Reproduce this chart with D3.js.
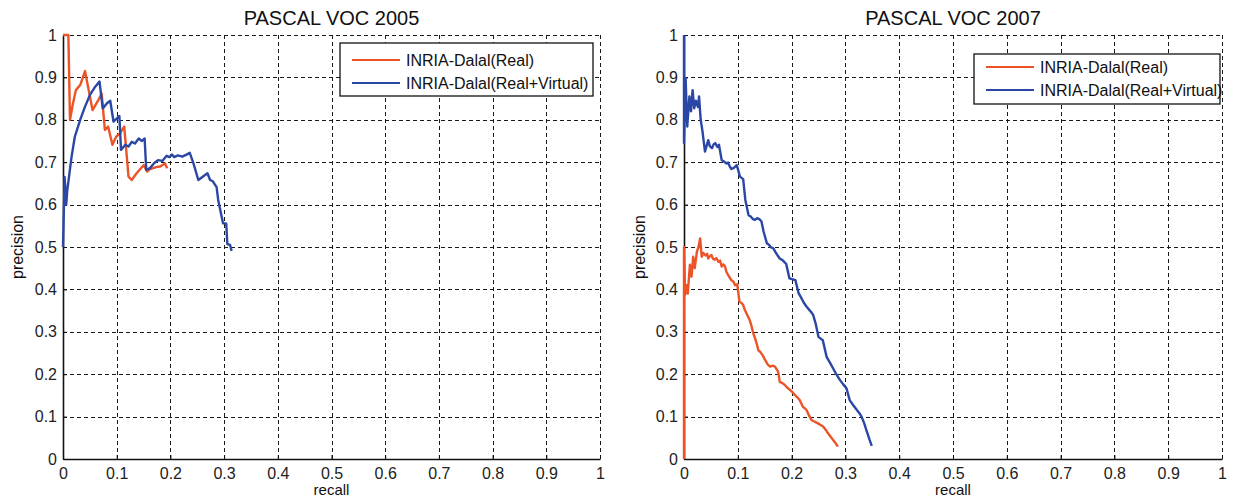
<!DOCTYPE html>
<html>
<head>
<meta charset="utf-8">
<script src="https://cdn.jsdelivr.net/npm/d3@7"></script>
<style>
  html, body { margin: 0; padding: 0; background: #fff; }
  svg { display: block; font-family: "Liberation Sans", Arial, sans-serif; }
</style>
</head>
<body>
<svg id="chart" width="1233" height="500"></svg>
<script>
// Precision/recall curves, [recall, precision] pairs
const voc2005Real = [
  [0,1.0],[0.010,1.0],[0.013,0.80],[0.018,0.835],[0.024,0.87],[0.032,0.882],[0.041,0.915],
  [0.055,0.823],[0.066,0.847],[0.072,0.862],[0.078,0.776],[0.084,0.784],[0.092,0.741],
  [0.099,0.760],[0.106,0.768],[0.114,0.784],[0.122,0.666],[0.128,0.658],[0.137,0.674],
  [0.150,0.693],[0.157,0.678],[0.162,0.684],[0.168,0.686],[0.175,0.689],[0.181,0.690],
  [0.190,0.697],[0.194,0.686]
];
const voc2005RealVirtual = [
  [0,0.5],[0.003,0.665],[0.006,0.60],[0.008,0.634],[0.016,0.713],[0.022,0.76],[0.032,0.80],
  [0.041,0.831],[0.050,0.858],[0.060,0.878],[0.068,0.89],[0.074,0.827],[0.082,0.839],
  [0.088,0.845],[0.094,0.796],[0.100,0.803],[0.105,0.809],[0.108,0.729],[0.116,0.741],
  [0.122,0.737],[0.128,0.748],[0.134,0.744],[0.141,0.756],[0.147,0.750],[0.152,0.756],
  [0.155,0.682],[0.162,0.686],[0.170,0.698],[0.177,0.705],[0.185,0.703],[0.193,0.715],
  [0.198,0.712],[0.203,0.718],[0.207,0.712],[0.214,0.716],[0.222,0.713],[0.230,0.718],
  [0.236,0.722],[0.243,0.697],[0.252,0.658],[0.269,0.674],[0.274,0.658],[0.279,0.655],
  [0.286,0.641],[0.289,0.611],[0.298,0.556],[0.304,0.555],[0.306,0.507],[0.311,0.505],
  [0.314,0.491]
];
const voc2007Real = [
  [0,0],[0,0.5],[0.002,0.387],[0.005,0.41],[0.007,0.39],[0.011,0.458],[0.014,0.43],
  [0.017,0.477],[0.020,0.45],[0.024,0.489],[0.027,0.50],[0.030,0.52],[0.033,0.477],
  [0.036,0.486],[0.040,0.48],[0.043,0.484],[0.045,0.473],[0.048,0.478],[0.051,0.481],
  [0.054,0.472],[0.057,0.47],[0.060,0.474],[0.064,0.465],[0.067,0.468],[0.070,0.454],
  [0.073,0.459],[0.076,0.455],[0.079,0.441],[0.082,0.434],[0.085,0.428],[0.088,0.422],
  [0.092,0.418],[0.095,0.41],[0.099,0.412],[0.101,0.392],[0.103,0.371],[0.107,0.368],
  [0.110,0.363],[0.113,0.352],[0.116,0.344],[0.119,0.336],[0.122,0.328],[0.125,0.316],
  [0.128,0.30],[0.133,0.281],[0.136,0.268],[0.138,0.257],[0.142,0.252],[0.146,0.245],
  [0.151,0.233],[0.155,0.224],[0.160,0.218],[0.165,0.220],[0.169,0.218],[0.175,0.206],
  [0.178,0.182],[0.183,0.179],[0.187,0.175],[0.192,0.168],[0.197,0.163],[0.202,0.157],
  [0.206,0.151],[0.211,0.145],[0.215,0.139],[0.221,0.123],[0.225,0.119],[0.228,0.115],
  [0.233,0.101],[0.237,0.092],[0.243,0.088],[0.249,0.084],[0.254,0.080],[0.259,0.076],
  [0.264,0.068],[0.268,0.06],[0.273,0.052],[0.277,0.045],[0.282,0.037],[0.286,0.029]
];
const voc2007RealVirtual = [
  [0,1.0],[0,0.745],[0.003,0.898],[0.006,0.784],[0.010,0.855],[0.013,0.82],[0.016,0.87],
  [0.019,0.827],[0.022,0.845],[0.026,0.83],[0.028,0.855],[0.031,0.80],[0.034,0.776],
  [0.039,0.725],[0.045,0.752],[0.048,0.738],[0.052,0.733],[0.055,0.742],[0.058,0.745],
  [0.062,0.736],[0.065,0.741],[0.070,0.705],[0.074,0.702],[0.079,0.697],[0.082,0.699],
  [0.085,0.69],[0.088,0.684],[0.092,0.686],[0.098,0.693],[0.101,0.680],[0.104,0.666],
  [0.110,0.66],[0.114,0.611],[0.120,0.575],[0.124,0.572],[0.128,0.566],[0.132,0.564],
  [0.136,0.568],[0.140,0.566],[0.144,0.56],[0.148,0.536],[0.154,0.509],[0.158,0.505],
  [0.162,0.499],[0.166,0.497],[0.170,0.488],[0.174,0.480],[0.178,0.473],[0.184,0.468],
  [0.190,0.46],[0.196,0.426],[0.201,0.424],[0.207,0.422],[0.213,0.391],[0.218,0.380],
  [0.223,0.368],[0.228,0.359],[0.234,0.350],[0.240,0.34],[0.245,0.318],[0.250,0.288],
  [0.254,0.284],[0.258,0.28],[0.262,0.258],[0.265,0.241],[0.271,0.228],[0.277,0.214],
  [0.283,0.200],[0.290,0.186],[0.296,0.176],[0.302,0.167],[0.308,0.139],[0.314,0.128],
  [0.321,0.116],[0.326,0.108],[0.330,0.10],[0.335,0.084],[0.339,0.068],[0.345,0.045],
  [0.349,0.031]
];

const tickValues = [0,0.1,0.2,0.3,0.4,0.5,0.6,0.7,0.8,0.9,1];
const tickLabels = ["0","0.1","0.2","0.3","0.4","0.5","0.6","0.7","0.8","0.9","1"];
const seriesNames = ["INRIA-Dalal(Real)", "INRIA-Dalal(Real+Virtual)"];
const seriesColors = ["#ec5428", "#2a47a6"];

const panels = [
  { title: "PASCAL VOC 2005", series: [voc2005Real, voc2005RealVirtual],
    left: 63, right: 600, top: 35, bottom: 459, ylabelX: 18,
    legend: { x: 340, y: 43, w: 253, h: 53, row1: 60, row2: 83 } },
  { title: "PASCAL VOC 2007", series: [voc2007Real, voc2007RealVirtual],
    left: 684, right: 1222, top: 35, bottom: 459, ylabelX: 640,
    legend: { x: 974, y: 54, w: 246, h: 50, row1: 67, row2: 90 } }
];

const svg = d3.select("#chart");

panels.forEach(p => {
  const x = d3.scaleLinear().domain([0, 1]).range([p.left, p.right]);
  const y = d3.scaleLinear().domain([0, 1]).range([p.bottom, p.top]);
  const g = svg.append("g");

  // dashed grid
  g.append("g").selectAll("line").data(tickValues.slice(1)).join("line")
    .attr("x1", d => Math.round(x(d)) + 0.5).attr("x2", d => Math.round(x(d)) + 0.5)
    .attr("y1", y(0)).attr("y2", y(1))
    .attr("stroke", "#1a1a1a").attr("stroke-width", 1).attr("stroke-dasharray", "4,3");
  g.append("g").selectAll("line").data(tickValues.slice(1)).join("line")
    .attr("x1", x(0)).attr("x2", x(1))
    .attr("y1", d => Math.round(y(d)) + 0.5).attr("y2", d => Math.round(y(d)) + 0.5)
    .attr("stroke", "#1a1a1a").attr("stroke-width", 1).attr("stroke-dasharray", "4,3");

  // axes
  const xAxis = d3.axisBottom(x).tickValues(tickValues)
    .tickFormat((d, i) => tickLabels[i]).tickSizeInner(-4).tickSizeOuter(0).tickPadding(9);
  const yAxis = d3.axisLeft(y).tickValues(tickValues)
    .tickFormat((d, i) => tickLabels[i]).tickSizeInner(-4).tickSizeOuter(0).tickPadding(6);

  const gx = g.append("g").attr("transform", `translate(0,${p.bottom})`).call(xAxis);
  const gy = g.append("g").attr("transform", `translate(${p.left},0)`).call(yAxis);
  [gx, gy].forEach(a => {
    a.select(".domain").attr("stroke", "#111").attr("stroke-width", 1.6);
    a.selectAll(".tick line").attr("stroke", "#111").attr("stroke-width", 1);
    a.selectAll(".tick text").attr("font-size", "16px").attr("fill", "#222")
      .attr("font-family", "Liberation Sans, Arial, sans-serif");
  });

  // curves
  const line = d3.line().x(d => x(d[0])).y(d => y(d[1]));
  p.series.forEach((s, i) => {
    g.append("path").datum(s).attr("d", line)
      .attr("fill", "none").attr("stroke", seriesColors[i])
      .attr("stroke-width", 2.4).attr("stroke-linejoin", "round");
  });

  // title and axis labels
  g.append("text").attr("x", (p.left + p.right) / 2).attr("y", 25)
    .attr("text-anchor", "middle").attr("font-size", "20px").attr("fill", "#111")
    .text(p.title);
  g.append("text").attr("x", (p.left + p.right) / 2).attr("y", 495)
    .attr("text-anchor", "middle").attr("font-size", "15px").attr("fill", "#111")
    .text("recall");
  g.append("text")
    .attr("transform", `translate(${p.ylabelX + 5},${(p.top + p.bottom) / 2}) rotate(-90)`)
    .attr("text-anchor", "middle").attr("font-size", "16px").attr("fill", "#111")
    .text("precision");

  // legend
  const L = p.legend;
  const lg = g.append("g");
  lg.append("rect").attr("x", L.x).attr("y", L.y).attr("width", L.w).attr("height", L.h)
    .attr("fill", "#fff").attr("stroke", "#111").attr("stroke-width", 1.3);
  [L.row1, L.row2].forEach((ry, i) => {
    lg.append("line").attr("x1", L.x + 12).attr("x2", L.x + 60)
      .attr("y1", ry).attr("y2", ry)
      .attr("stroke", seriesColors[i]).attr("stroke-width", 2);
    lg.append("text").attr("x", L.x + 66).attr("y", ry).attr("dy", "0.35em")
      .attr("font-size", "16px").attr("fill", "#111").text(seriesNames[i]);
  });
});
</script>
</body>
</html>
